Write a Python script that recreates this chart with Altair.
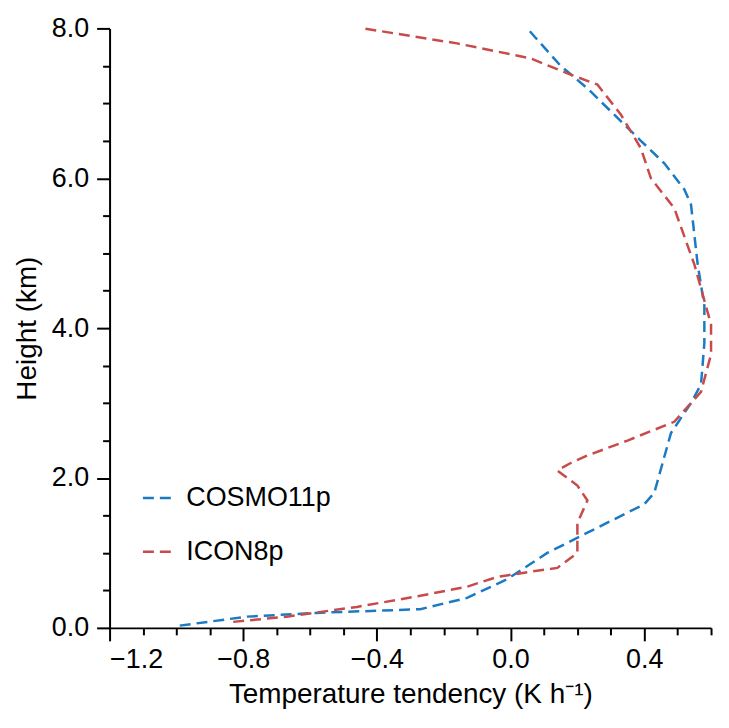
import altair as alt
import pandas as pd

cosmo_x = [-0.99,-0.79,-0.58,-0.27,-0.13,-0.01,0.11,0.23,0.40,0.43,0.48,0.54,0.57,0.58,0.58,0.56,0.54,0.52,0.46,0.39,0.23,0.15,0.05]
cosmo_h = [0.03,0.15,0.20,0.25,0.40,0.65,1.00,1.27,1.65,1.80,2.60,3.00,3.25,3.80,4.30,4.85,5.65,5.85,6.20,6.50,7.20,7.50,8.00]
icon_x = [-0.83,-0.67,-0.46,-0.28,-0.13,-0.04,0.06,0.14,0.20,0.20,0.23,0.20,0.14,0.18,0.23,0.35,0.49,0.57,0.60,0.60,0.55,0.49,0.42,0.39,0.33,0.26,0.17,0.06,-0.16,-0.44]
icon_h = [0.08,0.15,0.28,0.42,0.55,0.68,0.75,0.80,1.00,1.40,1.70,1.90,2.10,2.20,2.30,2.50,2.75,3.15,3.65,4.05,4.85,5.60,6.00,6.40,6.85,7.25,7.40,7.60,7.80,8.00]

rows = []
for i, (x, h) in enumerate(zip(cosmo_x, cosmo_h)):
    rows.append({"model": "COSMO11p", "x": x, "h": h, "i": i})
for i, (x, h) in enumerate(zip(icon_x, icon_h)):
    rows.append({"model": "ICON8p", "x": x, "h": h, "i": i})
df = pd.DataFrame(rows)

font = "Liberation Sans"
xticks = [round(-1.2 + 0.1 * k, 1) for k in range(19)]
yticks = [0.5 * k for k in range(17)]

chart = alt.Chart(df).mark_line(strokeDash=[11, 6], strokeWidth=2.5).encode(
    x=alt.X("x:Q", scale=alt.Scale(domain=[-1.2, 0.6], nice=False, zero=False),
            axis=alt.Axis(values=xticks, title="Temperature tendency (K h⁻¹)",
                          labelExpr="abs(round(datum.value*10)) % 4 == 0 ? replace(format(datum.value, '.1f'), '-', '−') : ''",
                          tickSize={"condition": {"test": "abs(round(datum.value*10)) % 4 == 0", "value": 13}, "value": 7},
                          grid=False, domainColor="black", tickColor="black", domainWidth=2, tickWidth=2,
                          labelFontSize=27, titleFontSize=28, labelColor="black", titleColor="black",
                          labelFont=font, titleFont=font, titleFontWeight="normal", labelPadding=6, titlePadding=8)),
    y=alt.Y("h:Q", scale=alt.Scale(domain=[0, 8], nice=False),
            axis=alt.Axis(values=yticks, title="Height (km)",
                          labelExpr="round(datum.value*2) % 4 == 0 ? format(datum.value, '.1f') : ''",
                          tickSize={"condition": {"test": "round(datum.value*2) % 4 == 0", "value": 13}, "value": 7},
                          grid=False, domainColor="black", tickColor="black", domainWidth=2, tickWidth=2,
                          labelFontSize=27, titleFontSize=28, labelColor="black", titleColor="black",
                          labelFont=font, titleFont=font, titleFontWeight="normal", labelPadding=8, titlePadding=10)),
    color=alt.Color("model:N", scale=alt.Scale(domain=["COSMO11p", "ICON8p"], range=["#1a7ac4", "#c94a4a"]),
                    legend=alt.Legend(title=None, orient="none", legendX=32, legendY=455,
                                      symbolType="stroke", symbolSize=900, symbolStrokeWidth=2.5,
                                      symbolDash=[11, 6], labelFontSize=27, labelFont=font,
                                      labelColor="black", rowPadding=24, labelOffset=12)),
    order="i:Q",
).properties(width=604, height=602).configure_view(stroke=None)

chart.save("out.html", embed_options={"renderer": "svg", "actions": False})
